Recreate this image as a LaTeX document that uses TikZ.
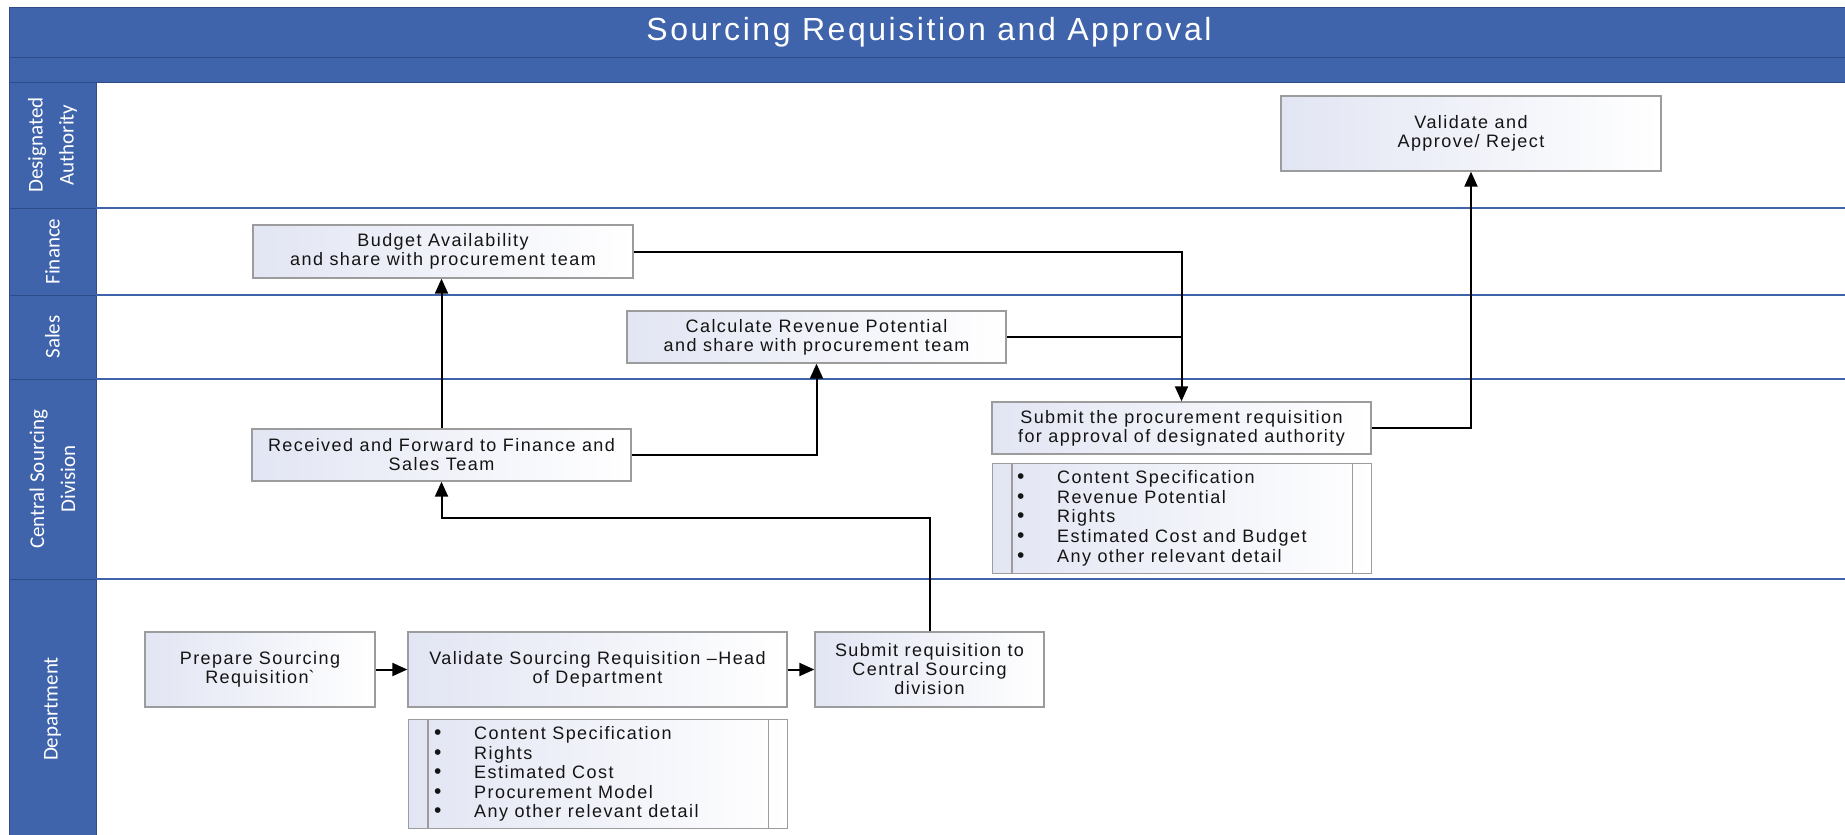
\documentclass[tikz,border=0pt]{standalone}
\usepackage{fontspec}
\usetikzlibrary{arrows.meta}
\newfontfamily\boxfont{Liberation Sans}[LetterSpace=8]
\newfontfamily\titlefont{Liberation Sans}[LetterSpace=8]
\newfontfamily\lanefont{Carlito}
\definecolor{laneblue}{HTML}{3F64AC}
\definecolor{edgeblue}{HTML}{2D4C88}
\definecolor{boxgray}{HTML}{9C9C9C}
\definecolor{lav}{HTML}{E2E5F3}
\definecolor{ink}{HTML}{141414}
\newcommand{\itembullet}{\makebox[40pt][l]{\fontsize{21}{19}\selectfont\textbullet}}
\begin{document}
\begin{tikzpicture}[x=1pt,y=-1pt,
  proc/.style={draw=boxgray, line width=1.3pt, left color=lav, right color=white,
    align=center, text=ink, inner sep=2pt, font={\boxfont\fontsize{18}{19}\selectfont}},
  listbox/.style={draw=boxgray, line width=1.3pt, left color=lav, right color=white,
    anchor=north west, inner sep=0pt},
  listitem/.style={anchor=west, inner sep=0pt, text=ink, text height=12.5pt, text depth=3.5pt,
    font={\boxfont\fontsize{18}{19}\selectfont}},
  lanelabel/.style={rotate=90, align=center, text=white, inner sep=0pt,
    font={\lanefont\fontsize{21}{31}\selectfont}},
  titletext/.style={text=white, inner sep=0pt, font={\titlefont\fontsize{32}{38}\selectfont}},
  flow/.style={draw=black, line width=2pt, -{Triangle[length=15pt,width=13pt]}},
  joinline/.style={draw=black, line width=2pt},
  divider/.style={draw=edgeblue, line width=1pt},
  laneline/.style={draw=laneblue, line width=1.6pt}]
\useasboundingbox (0,0) rectangle (1845,835);

% header bands and label column
\fill[laneblue] (9,7) rectangle (1845,82);
\fill[laneblue] (9,82) rectangle (96,835);
\draw[divider] (9,57) -- (1845,57);
\draw[divider] (9,82) -- (1845,82);
\draw[divider] (1845,7) -- (9,7) -- (9,835);
\draw[divider] (96,82) -- (96,835);
\foreach \y in {208,295,379,579} {
  \draw[divider] (9,\y) -- (96,\y);
  \draw[laneline] (96,\y) -- (1845,\y);
}

\node[titletext] (title) at (929,32) {Sourcing Requisition and Approval};

% lane labels
\node[lanelabel] (laneDA)   at (52.5,145) {Designated\\Authority};
\node[lanelabel] (laneFin)  at (52.5,251.5) {Finance};
\node[lanelabel] (laneSal)  at (52.5,337) {Sales};
\node[lanelabel] (laneCSD)  at (52.5,479) {Central Sourcing\\Division};
\node[lanelabel] (laneDept) at (52.5,709) {Department};

% process boxes
\node[proc, minimum width=380, minimum height=75] (appr) at (1471,133.5)
  {Validate and\\Approve/ Reject};
\node[proc, minimum width=380, minimum height=53] (budget) at (443,251.5)
  {Budget Availability\\and share with procurement team};
\node[proc, minimum width=379, minimum height=52] (revenue) at (816.5,337)
  {Calculate Revenue Potential\\and share with procurement team};
\node[proc, minimum width=379, minimum height=52] (recv) at (441.5,455)
  {Received and Forward to Finance and\\Sales Team};
\node[proc, minimum width=379, minimum height=52] (subproc) at (1181.5,428)
  {Submit the procurement requisition\\for approval of designated authority};
\node[proc, minimum width=230, minimum height=75] (prep) at (260,669.5)
  {Prepare Sourcing\\Requisition\textasciigrave};
\node[proc, minimum width=379, minimum height=75] (valid) at (597.5,669.5)
  {Validate Sourcing Requisition –Head\\of Department};
\node[proc, minimum width=229, minimum height=75] (subreq) at (929.5,669.5)
  {Submit requisition to\\Central Sourcing\\division};

% detail lists
\node[listbox, minimum width=379, minimum height=109] (list1) at (408,719) {};
\draw[boxgray, line width=1.3pt] ([xshift=20pt]list1.north west) -- ([xshift=20pt]list1.south west);
\draw[boxgray, line width=1.3pt] ([xshift=-20pt]list1.north east) -- ([xshift=-20pt]list1.south east);
\foreach \t [count=\i] in {Content Specification, Rights, Estimated Cost, Procurement Model, Any other relevant detail}
  \node[listitem] (l1-\i) at (434,{735+19.5*(\i-1)}) {\itembullet\t};

\node[listbox, minimum width=379, minimum height=110] (list2) at (992,463) {};
\draw[boxgray, line width=1.3pt] ([xshift=20pt]list2.north west) -- ([xshift=20pt]list2.south west);
\draw[boxgray, line width=1.3pt] ([xshift=-20pt]list2.north east) -- ([xshift=-20pt]list2.south east);
\foreach \t [count=\i] in {Content Specification, Revenue Potential, Rights, Estimated Cost and Budget, Any other relevant detail}
  \node[listitem] (l2-\i) at (1017,{479+19.7*(\i-1)}) {\itembullet\t};

% connectors
\coordinate (csdbus) at (700,518);
\draw[flow] (prep.east) -- (valid.west);
\draw[flow] (valid.east) -- (subreq.west);
\draw[flow] (subreq.north) |- (csdbus) -| (recv.south);
\draw[flow] (recv.north) -- (recv.north |- budget.south);
\draw[flow] (recv.east) -| (revenue.south);
\draw[flow] (budget.east) -| (subproc.north);
\draw[joinline] (revenue.east) -- (revenue.east -| subproc.north);
\draw[flow] (subproc.east) -| (appr.south);
\end{tikzpicture}
\end{document}
